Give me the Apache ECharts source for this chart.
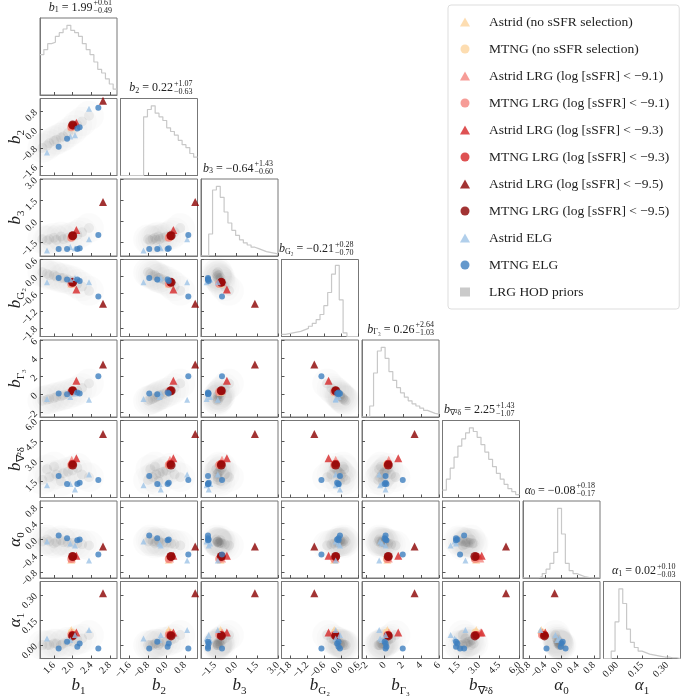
<!DOCTYPE html>
<html>
<head>
<meta charset="utf-8">
<script src="https://cdn.jsdelivr.net/npm/echarts@6/dist/echarts.min.js"></script>
<style>html,body{margin:0;padding:0;background:#fff}#c{width:694px;height:700px}</style>
</head>
<body>
<div id="c"></div>
<script>
// parameter order: b1, b2, b3, bG2, bG3, bnab, a0, a1
const ranges = [[1.3, 2.95], [-2.0, 1.35], [-2.5, 3.0], [-2.1, 0.6], [-2.5, 6.0], [0.3, 6.0], [-0.95, 0.95], [-0.08, 0.38]]
const ticks = [
  [1.6, 2.0, 2.4, 2.8],
  [-1.6, -0.8, 0.0, 0.8],
  [-1.5, 0.0, 1.5, 3.0],
  [-1.8, -1.2, -0.6, 0.0, 0.6],
  [-2, 0, 2, 4, 6],
  [1.5, 3.0, 4.5, 6.0],
  [-0.8, -0.4, 0.0, 0.4, 0.8],
  [0.0, 0.15, 0.30]
]
const tickDigits = [1, 1, 1, 1, 0, 1, 1, 2]
const medians = ['1.99', '0.22', '−0.64', '−0.21', '0.26', '2.25', '−0.08', '0.02']
const errUp = ['+0.61', '+1.07', '+1.43', '+0.28', '+2.64', '+1.43', '+0.18', '+0.10']
const errDn = ['−0.49', '−0.63', '−0.60', '−0.70', '−1.03', '−1.07', '−0.17', '−0.03']
// [base, subscript]
const labels = [['b', '1'], ['b', '2'], ['b', '3'], ['b', 'G₂'], ['b', 'Γ₃'], ['b', '∇²δ'], ['α', '0'], ['α', '1']]

// marginal histograms (20 bins over the axis range)
const hists = [
  [0.55, 0.62, 0.7, 0.72, 0.8, 0.85, 0.9, 0.95, 0.88, 0.85, 0.8, 0.7, 0.62, 0.55, 0.45, 0.35, 0.3, 0.22, 0.15, 0.08],
  [0, 0, 0, 0, 0, 0, 0.8, 0.9, 0.95, 0.85, 0.8, 0.75, 0.65, 0.6, 0.55, 0.48, 0.42, 0.38, 0.3, 0.25],
  [0, 0, 0.3, 0.9, 0.95, 0.8, 0.6, 0.45, 0.35, 0.28, 0.22, 0.18, 0.15, 0.12, 0.1, 0.08, 0.06, 0.05, 0.04, 0.03],
  [0.03, 0.04, 0.05, 0.06, 0.07, 0.09, 0.11, 0.14, 0.18, 0.23, 0.3, 0.42, 0.6, 0.85, 0.97, 0.5, 0.05, 0, 0, 0],
  [0, 0, 0.15, 0.6, 0.9, 0.95, 0.8, 0.62, 0.5, 0.4, 0.33, 0.27, 0.22, 0.18, 0.15, 0.12, 0.09, 0.07, 0.05, 0.04],
  [0.1, 0.25, 0.4, 0.55, 0.7, 0.8, 0.88, 0.95, 0.9, 0.82, 0.72, 0.62, 0.52, 0.42, 0.33, 0.25, 0.18, 0.12, 0.08, 0.04],
  [0, 0, 0, 0, 0.02, 0.06, 0.12, 0.2, 0.35, 0.95, 0.6, 0.2, 0.1, 0.06, 0.04, 0.02, 0.01, 0, 0, 0],
  [0, 0, 0.1, 0.5, 0.95, 0.75, 0.4, 0.22, 0.15, 0.1, 0.08, 0.06, 0.05, 0.04, 0.03, 0.02, 0.02, 0.01, 0.01, 0]
]

// LRG HOD prior samples (dense core)
const priorSamples = [
  [1.35, -0.8, -1.3, 0.15, -0.7, 1.6, -0.05, 0.0],
  [1.5, -0.6, -1.3, 0.05, -0.5, 1.8, -0.05, 0.0],
  [1.65, -0.45, -1.35, 0.0, -0.3, 2.0, -0.06, 0.01],
  [1.8, -0.3, -1.3, -0.05, -0.1, 2.1, -0.07, 0.01],
  [1.9, -0.15, -1.2, -0.1, 0.0, 2.2, -0.08, 0.02],
  [2.0, 0.0, -1.1, -0.15, 0.2, 2.3, -0.08, 0.02],
  [2.1, 0.2, -1.0, -0.25, 0.4, 2.5, -0.1, 0.03],
  [1.75, -0.35, -1.1, -0.05, -0.2, 1.5, -0.02, 0.0],
  [1.6, -0.5, -1.2, 0.05, -0.4, 2.6, -0.1, 0.01],
  [2.2, 0.35, -0.8, -0.35, 0.7, 2.0, -0.12, 0.04],
  [2.35, 0.6, -0.5, -0.5, 1.2, 1.8, -0.15, 0.06],
  [1.45, -0.7, -1.4, 0.1, -0.6, 2.4, 0.0, 0.0]
]

const astridNoSel = [[1.97, 0.1, -1.1, -0.25, 0.3, 2.8, -0.5, 0.09]]
const mtngNoSel = [[1.98, 0.12, -1.15, -0.22, 0.25, 2.75, -0.48, 0.075]]
const astrid91 = [[1.98, 0.15, -1.0, -0.2, 0.45, 3.1, -0.47, 0.075]]
const mtng91 = [[1.97, 0.1, -1.2, -0.25, 0.3, 2.7, -0.48, 0.06]]
const astrid93 = [[2.08, 0.3, -0.65, -0.45, 1.5, 3.2, -0.4, 0.075]]
const mtng93 = [[2.0, 0.18, -1.05, -0.2, 0.4, 2.8, -0.42, 0.06]]
const astrid95 = [[2.65, 1.25, 1.35, -0.95, 3.3, 5.0, -0.17, 0.31]]
const mtng95 = [[2.0, 0.2, -1.05, -0.2, 0.4, 2.7, -0.42, 0.055]]
const astridELG = [
  [1.45, -1.0, -2.1, -0.2, -0.5, 1.2, -0.05, 0.04],
  [1.95, -0.3, -1.85, -0.1, -0.3, 1.3, -0.1, 0.03],
  [2.05, -0.25, -1.95, -0.05, 0.1, 0.9, -0.15, 0.06],
  [2.35, 0.9, -1.3, -0.2, -0.6, 2.0, -0.52, 0.09]
]
const mtngELG = [
  [1.7, -0.75, -2.0, -0.05, 0.1, 1.9, 0.1, -0.02],
  [1.88, -0.4, -2.0, -0.1, 0.0, 1.3, 0.03, 0.02],
  [2.1, 0.05, -2.0, -0.1, 0.2, 1.3, -0.02, -0.01],
  [2.15, 0.1, -1.95, -0.15, 0.1, 1.4, 0.0, 0.01],
  [2.55, 0.95, -1.0, -0.7, 2.0, 1.6, -0.37, -0.02]
]

const markerSets = [
  { name: 'Astrid (no sSFR selection)', pts: astridNoSel, sym: 'triangle', color: '#fdd49e', size: 8 },
  { name: 'MTNG (no sSFR selection)', pts: mtngNoSel, sym: 'circle', color: '#fdd49e', size: 8 },
  { name: 'Astrid LRG (log [sSFR] < −9.1)', pts: astrid91, sym: 'triangle', color: '#f4837d', size: 8 },
  { name: 'MTNG LRG (log [sSFR] < −9.1)', pts: mtng91, sym: 'circle', color: '#f4837d', size: 8 },
  { name: 'Astrid LRG (log [sSFR] < −9.3)', pts: astrid93, sym: 'triangle', color: '#d62728', size: 8 },
  { name: 'MTNG LRG (log [sSFR] < −9.3)', pts: mtng93, sym: 'circle', color: '#d62728', size: 8 },
  { name: 'Astrid LRG (log [sSFR] < −9.5)', pts: astrid95, sym: 'triangle', color: '#8b0000', size: 8 },
  { name: 'MTNG LRG (log [sSFR] < −9.5)', pts: mtng95, sym: 'circle', color: '#8b0000', size: 9 },
  { name: 'Astrid ELG', pts: astridELG, sym: 'triangle', color: '#9dc3e6', size: 6 },
  { name: 'MTNG ELG', pts: mtngELG, sym: 'circle', color: '#3f7fbf', size: 6 }
]

const N = 8
const x0 = 40, y0 = 18, step = 80.5, w = 77
const serif = 'Liberation Serif'
const fmt = (v, d) => v.toFixed(d).replace('-', '−')
const lineSt = { show: true, onZero: false, lineStyle: { color: '#777', width: 1 } }

const grid = [], xAxis = [], yAxis = [], series = [], graphic = []
let gi = 0

for (let r = 0; r < N; r++) {
  for (let c = 0; c <= r; c++) {
    grid.push({ left: x0 + c * step, top: y0 + r * step, width: w, height: w, show: true, borderColor: '#777', borderWidth: 1 })
    const bottomRow = r === N - 1
    const leftCol = c === 0 && r > 0
    xAxis.push({
      gridIndex: gi, type: 'value', min: ranges[c][0], max: ranges[c][1],
      axisLine: lineSt, splitLine: { show: false },
      axisTick: { show: true, inside: true, length: 3, lineStyle: { color: '#555' }, customValues: ticks[c] },
      axisLabel: {
        show: bottomRow, rotate: 45, fontFamily: serif, fontSize: 10, color: '#222', margin: 5,
        customValues: ticks[c], formatter: v => fmt(v, tickDigits[c])
      }
    })
    const diag = r === c
    yAxis.push({
      gridIndex: gi, type: 'value',
      min: diag ? 0 : ranges[r][0], max: diag ? 1.05 : ranges[r][1],
      axisLine: lineSt, splitLine: { show: false },
      axisTick: { show: !diag, inside: true, length: 3, lineStyle: { color: '#555' }, customValues: ticks[r] },
      axisLabel: {
        show: leftCol, rotate: 45, fontFamily: serif, fontSize: 10, color: '#222', margin: 4,
        customValues: ticks[r], formatter: v => fmt(v, tickDigits[r])
      }
    })
    if (diag) {
      const h = hists[c], lo = ranges[c][0], bw = (ranges[c][1] - lo) / h.length
      const pts = []
      h.forEach((v, i) => { pts.push([lo + i * bw, v]); pts.push([lo + (i + 1) * bw, v]) })
      series.push({ type: 'line', xAxisIndex: gi, yAxisIndex: gi, data: pts, symbol: 'none', silent: true,
        lineStyle: { color: '#c8c8c8', width: 1.2 } })
    } else {
      const cloud = priorSamples.map(s => [s[c], s[r]])
      series.push({ type: 'scatter', name: 'LRG HOD priors', xAxisIndex: gi, yAxisIndex: gi, data: cloud, symbol: 'circle',
        symbolSize: 30, itemStyle: { color: 'rgba(0,0,0,0.018)' }, silent: true })
      series.push({ type: 'scatter', name: 'LRG HOD priors', xAxisIndex: gi, yAxisIndex: gi, data: cloud, symbol: 'circle',
        symbolSize: 10, itemStyle: { color: 'rgba(60,60,60,0.09)' }, silent: true })
      markerSets.forEach(m => {
        series.push({ type: 'scatter', name: m.name, xAxisIndex: gi, yAxisIndex: gi, symbol: m.sym, symbolSize: m.size,
          data: m.pts.map(p => [p[c], p[r]]), itemStyle: { color: m.color }, silent: true, z: 5 })
      })
    }
    gi++
  }
}

// diagonal titles
for (let i = 0; i < N; i++) {
  const cx = x0 + i * step + w / 2 + 14
  const ty = y0 + i * step - 4
  graphic.push({ type: 'text', x: cx, y: ty, style: {
    text: '{v|' + labels[i][0] + '}{s|' + labels[i][1] + '} = ' + medians[i],
    align: 'right', verticalAlign: 'bottom', fontFamily: serif, fontSize: 12, fill: '#222',
    rich: { v: { fontStyle: 'italic', fontSize: 12, fontFamily: serif }, s: { fontSize: 8, fontFamily: serif, padding: [5, 0, 0, 0] } }
  } })
  graphic.push({ type: 'text', x: cx + 1, y: ty - 7, style: { text: errUp[i], fontSize: 8, fontFamily: serif, fill: '#222', align: 'left', verticalAlign: 'bottom' } })
  graphic.push({ type: 'text', x: cx + 1, y: ty + 1, style: { text: errDn[i], fontSize: 8, fontFamily: serif, fill: '#222', align: 'left', verticalAlign: 'bottom' } })
}

// axis names
const nameRich = { v: { fontStyle: 'italic', fontSize: 17, fontFamily: serif }, s: { fontSize: 11, fontFamily: serif, padding: [12, 0, 0, 0] } }
for (let i = 0; i < N; i++) {
  const t = '{v|' + labels[i][0] + '}{s|' + labels[i][1] + '}'
  graphic.push({ type: 'text', x: x0 + i * step + w / 2, y: 697, style: { text: t, align: 'center', verticalAlign: 'bottom', fill: '#222', rich: nameRich } })
  if (i > 0) {
    graphic.push({ type: 'text', x: 4, y: y0 + i * step + w / 2, rotation: Math.PI / 2, style: { text: t, align: 'center', verticalAlign: 'top', fill: '#222', rich: nameRich } })
  }
}

const legendData = markerSets.map(m => ({ name: m.name, icon: m.sym }))
legendData.push({ name: 'LRG HOD priors', icon: 'rect', itemStyle: { color: '#bdbdbd' } })

const chart = echarts.init(document.getElementById('c'))
chart.setOption({
  animation: false,
  grid, xAxis, yAxis, series, graphic,
  legend: {
    data: legendData, orient: 'vertical', left: 448, top: 5,
    itemWidth: 10, itemHeight: 9, itemGap: 13,
    backgroundColor: '#fff', borderColor: '#ddd', borderWidth: 1, borderRadius: 3, padding: [10, 10, 10, 12],
    textStyle: { fontFamily: serif, fontSize: 13.5, color: '#222', padding: [0, 0, 0, 14] },
    selectedMode: false
  }
})
</script>
</body>
</html>
